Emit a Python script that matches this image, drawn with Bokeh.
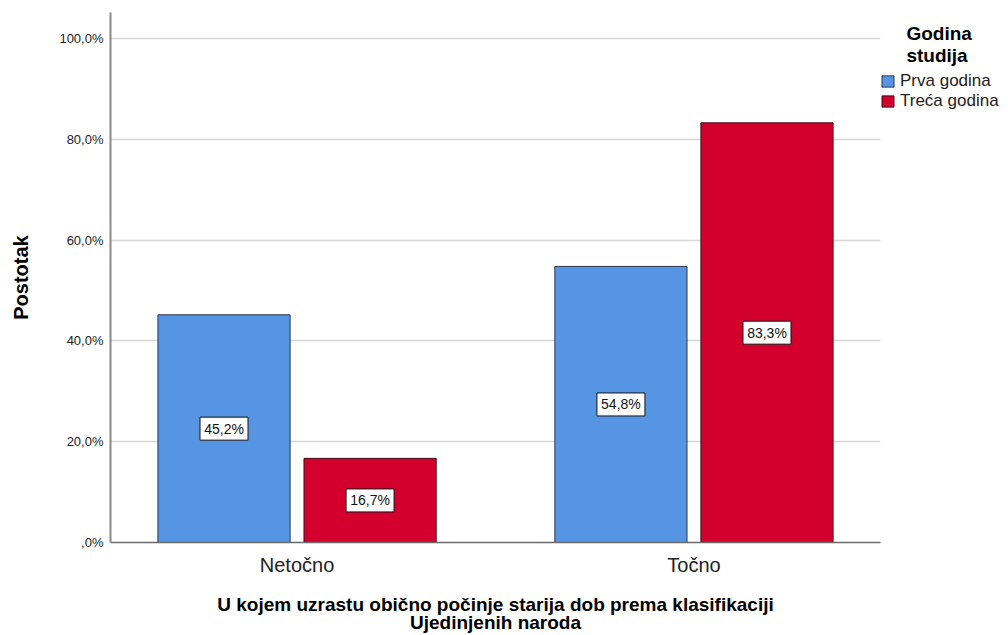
from bokeh.plotting import figure
from bokeh.models import ColumnDataSource, FactorRange, Range1d, FixedTicker, Legend, LegendItem
from bokeh.transform import dodge
from bokeh.core.properties import value
from bokeh.embed import file_html
from bokeh.resources import INLINE

categories = ["Netočno", "Točno"]
prva_godina = [45.2, 54.8]
treca_godina = [16.7, 83.3]
series_names = ["Prva godina", "Treća godina"]
y_ticks = [0, 20, 40, 60, 80, 100]
y_tick_labels = [",0%", "20,0%", "40,0%", "60,0%", "80,0%", "100,0%"]
x_title = "U kojem uzrastu obično počinje starija dob prema klasifikaciji\nUjedinjenih naroda"
y_title = "Postotak"
legend_title_lines = ["Godina", "studija"]

FONT = "Liberation Sans"
BLUE = "#5695e3"
RED = "#d3002e"

def fmt(v):
    return f"{v:.1f}".replace(".", ",") + "%"

src = ColumnDataSource(dict(
    cat=categories,
    prva=prva_godina,
    treca=treca_godina,
    prva_mid=[v / 2 for v in prva_godina],
    treca_mid=[v / 2 for v in treca_godina],
    prva_lbl=[fmt(v) for v in prva_godina],
    treca_lbl=[fmt(v) for v in treca_godina],
))

x_range = FactorRange(*categories, range_padding=-0.03)
p = figure(x_range=x_range, y_range=Range1d(0, 105.2),
           frame_width=770, frame_height=530,
           min_border_left=110, min_border_top=12, min_border_bottom=88, min_border_right=118,
           output_backend="svg", toolbar_location=None,
           background_fill_color="white", border_fill_color="white")
p.outline_line_color = None

off = 0.184
w = 0.333
r1 = p.vbar(x=dodge("cat", -off, range=p.x_range), top="prva", width=w, bottom=0,
            source=src, fill_color=BLUE, line_color="#2a3650", line_width=1)
r2 = p.vbar(x=dodge("cat", off, range=p.x_range), top="treca", width=w, bottom=0,
            source=src, fill_color=RED, line_color="#3f0d18", line_width=1)

for ycol, tcol, d in [("prva_mid", "prva_lbl", -off), ("treca_mid", "treca_lbl", off)]:
    p.rect(x=dodge("cat", d, range=p.x_range), y=ycol, width=48, height=23,
           width_units="screen", height_units="screen", source=src,
           fill_color="white", line_color="#111111", line_width=1)
    p.text(x=dodge("cat", d, range=p.x_range), y=ycol, text=tcol, source=src,
           text_align="center", text_baseline="middle",
           text_font=value(FONT), text_font_size="14px", text_color="#111111")

# axes
p.yaxis.ticker = FixedTicker(ticks=y_ticks)
p.yaxis.major_label_overrides = {t: l for t, l in zip(y_ticks, y_tick_labels)}
p.yaxis.major_label_text_font = FONT
p.yaxis.major_label_text_font_size = "13px"
p.yaxis.major_label_text_color = "#222222"
p.yaxis.major_tick_out = 0
p.yaxis.major_tick_in = 0
p.yaxis.minor_tick_out = 0
p.yaxis.minor_tick_in = 0
p.yaxis.major_label_standoff = 7
p.yaxis.axis_line_color = "#8a8a8a"
p.yaxis.axis_line_width = 2
p.yaxis.axis_label = y_title
p.yaxis.axis_label_text_font = FONT
p.yaxis.axis_label_text_font_size = "20px"
p.yaxis.axis_label_text_font_style = "bold"
p.yaxis.axis_label_text_color = "black"
p.yaxis.axis_label_standoff = 24

p.xaxis.major_tick_out = 0
p.xaxis.major_tick_in = 0
p.xaxis.major_label_text_font = FONT
p.xaxis.major_label_text_font_size = "20px"
p.xaxis.major_label_text_color = "#222222"
p.xaxis.major_label_standoff = 11
p.xaxis.axis_line_color = "#6a6a6a"
p.xaxis.axis_line_width = 1.5
p.xaxis.axis_label = x_title
p.xaxis.axis_label_text_font = FONT
p.xaxis.axis_label_text_font_size = "19px"
p.xaxis.axis_label_text_font_style = "bold"
p.xaxis.axis_label_text_color = "black"
p.xaxis.axis_label_text_line_height = 0.9
p.xaxis.axis_label_standoff = 15

p.xgrid.grid_line_color = None
p.ygrid.ticker = FixedTicker(ticks=y_ticks)
p.ygrid.grid_line_color = "#d6d6d6"
p.ygrid.grid_line_width = 1.5

# legend title lines, shifted with non-breaking spaces to appear centred over the items
pad = "\u00a0" * 5
legend_title = "\n".join([pad + legend_title_lines[0], pad + legend_title_lines[1]])

legend = Legend(items=[LegendItem(label=series_names[0], renderers=[r1]),
                       LegendItem(label=series_names[1], renderers=[r2])],
                title=legend_title, title_text_font=FONT, title_text_font_size="19px",
                title_text_font_style="bold", title_text_color="black",
                title_standoff=4,
                location=(0, 431), margin=0, padding=2, spacing=0,
                glyph_width=15, glyph_height=14, label_height=14, label_standoff=5,
                label_text_font=FONT, label_text_font_size="17px", label_text_color="#222222",
                border_line_color=None, background_fill_alpha=0)
p.add_layout(legend, "right")

open("out.html", "w").write(file_html(p, INLINE))
